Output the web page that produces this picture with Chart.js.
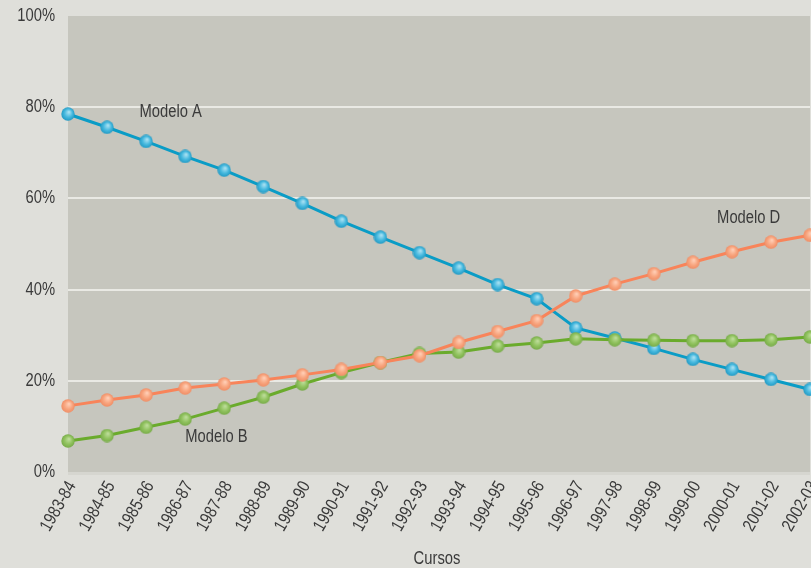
<!DOCTYPE html>
<html>
<head>
<meta charset="utf-8">
<script src="https://cdn.jsdelivr.net/npm/chart.js@4/dist/chart.umd.min.js"></script>
<style>
  html, body { margin: 0; padding: 0; background: #dfdfda; overflow: hidden; }
  #wrap { position: relative; width: 860px; height: 568px; }
</style>
</head>
<body>
<div id="wrap"><canvas id="c"></canvas></div>
<script>
// Academic years (cursos)
const cursos = ['1983-84','1984-85','1985-86','1986-87','1987-88','1988-89','1989-90',
  '1990-91','1991-92','1992-93','1993-94','1994-95','1995-96','1996-97','1997-98',
  '1998-99','1999-00','2000-01','2001-02','2002-03'];

// Share of students per model (%)
const modeloA = [78.5,75.6,72.5,69.2,66.2,62.6,58.9,55.0,51.5,48.1,44.7,41.1,38.0,31.6,29.4,27.1,24.7,22.5,20.3,18.1];
const modeloB = [6.8,8.0,9.8,11.6,14.0,16.4,19.3,21.8,24.0,26.0,26.3,27.6,28.3,29.2,29.0,28.9,28.8,28.8,29.0,29.6];
const modeloD = [14.5,15.8,16.9,18.4,19.3,20.2,21.3,22.5,24.0,25.5,28.4,30.8,33.2,38.6,41.2,43.5,46.0,48.3,50.4,51.9];

const yTicks = [0, 20, 40, 60, 80, 100];
const xTitle = 'Cursos';

// In-plot series names, anchored in data coordinates (category index, value)
const seriesLabels = [
  { text: 'Modelo A', x: 2.63, y: 78.9 },
  { text: 'Modelo B', x: 3.80, y: 7.6 },
  { text: 'Modelo D', x: 17.43, y: 55.6 }
];

const FONT = "18px 'Liberation Sans', Arial, sans-serif";
const SQUEEZE = 0.82;          // condensed look: horizontal text scale
const TEXT = '#3a3a3a';

// Small shaded sphere used as the point marker
function sphere(light, base, dark) {
  const s = 14, c = document.createElement('canvas');
  c.width = s; c.height = s;
  const g = c.getContext('2d');
  const grd = g.createRadialGradient(s/2 + 1, s/2 - 2, 0.5, s/2, s/2, s/2);
  grd.addColorStop(0, light);
  grd.addColorStop(0.55, base);
  grd.addColorStop(1, dark);
  g.fillStyle = grd;
  g.beginPath();
  g.arc(s/2, s/2, s/2 - 0.3, 0, Math.PI * 2);
  g.fill();
  return c;
}

// Draws text condensed horizontally along its own baseline
function squeezedText(ctx, text, x, y, angle, align) {
  ctx.save();
  ctx.translate(x, y);
  ctx.rotate(angle);
  ctx.scale(SQUEEZE, 1);
  ctx.textAlign = align;
  ctx.textBaseline = 'middle';
  ctx.fillText(text, 0, 0);
  ctx.restore();
}

const plotBg = {
  id: 'plotBg',
  beforeDraw(chart) {
    const { ctx, chartArea: a } = chart;
    ctx.save();
    ctx.fillStyle = '#c6c6be';
    ctx.fillRect(a.left, a.top, a.right - a.left, a.bottom - a.top);
    ctx.fillStyle = '#d6d6d0';
    ctx.fillRect(a.left, a.bottom, a.right - a.left, 3);
    ctx.restore();
  }
};

const textPlugin = {
  id: 'axisText',
  afterDraw(chart) {
    const { ctx, chartArea: a, scales: { x, y } } = chart;
    ctx.save();
    ctx.font = FONT;
    ctx.fillStyle = TEXT;
    // value axis
    y.ticks.forEach(t => squeezedText(ctx, t.value + '%', a.left - 13, y.getPixelForValue(t.value), 0, 'right'));
    // category axis, rotated
    x.ticks.forEach((t, i) => squeezedText(ctx, cursos[i], x.getPixelForTick(i) + 4, a.bottom + 11, -Math.PI / 3, 'right'));
    // axis title
    squeezedText(ctx, xTitle, (a.left + a.right) / 2 - 2, a.bottom + 87, 0, 'center');
    // series names
    seriesLabels.forEach(l => squeezedText(ctx, l.text, x.getPixelForValue(l.x), y.getPixelForValue(l.y), 0, 'center'));
    ctx.restore();
  }
};

function ds(label, data, line, marker, order) {
  return {
    label, data, order,
    borderColor: line,
    borderWidth: 3,
    pointStyle: marker,
    pointRadius: 7,
    tension: 0,
    fill: false
  };
}

new Chart(document.getElementById('c'), {
  type: 'line',
  data: {
    labels: cursos,
    datasets: [
      ds('Modelo A', modeloA, '#0a9cc6', sphere('#a6e0f2', '#45b8de', '#2198c2'), 3),
      ds('Modelo B', modeloB, '#6aab2c', sphere('#bcdc98', '#90c25e', '#76aa48'), 2),
      ds('Modelo D', modeloD, '#f8845a', sphere('#ffcdb4', '#f8a57f', '#ef8c64'), 1)
    ]
  },
  options: {
    responsive: true,
    maintainAspectRatio: false,
    animation: false,
    layout: { padding: { top: 16, right: 50, left: 0, bottom: 0 } },
    plugins: { legend: { display: false }, tooltip: { enabled: false } },
    scales: {
      x: {
        offset: false,
        grid: { display: false, drawTicks: false },
        border: { display: false },
        ticks: { display: false, autoSkip: false },
        afterFit(s) { s.height = 96; }
      },
      y: {
        min: 0, max: 100,
        afterBuildTicks(s) { s.ticks = yTicks.map(v => ({ value: v })); },
        grid: {
          drawTicks: false,
          lineWidth: 2,
          color: c => (c.tick && (c.tick.value === 100 || c.tick.value === 0)) ? 'rgba(0,0,0,0)' : '#e9e9e4'
        },
        border: { display: false },
        ticks: { display: false },
        afterFit(s) { s.width = 68; }
      }
    }
  },
  plugins: [plotBg, textPlugin]
});
</script>
</body>
</html>
